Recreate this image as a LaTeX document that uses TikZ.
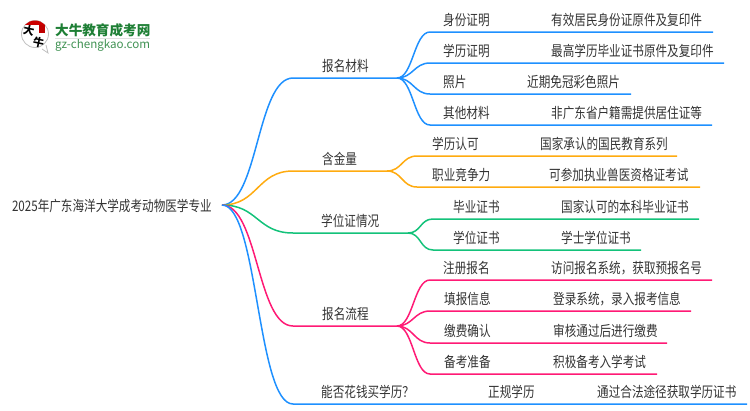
\documentclass[tikz,border=0pt]{standalone}
\usepackage{fontspec}
\setmainfont[FakeStretch=0.8]{Noto Sans CJK SC}
\newfontfamily\logofont{Noto Sans CJK SC}
\usetikzlibrary{positioning}

\definecolor{bluel}{HTML}{1E90FF}
\definecolor{orangel}{HTML}{FFAB0F}
\definecolor{greenl}{HTML}{13C27A}
\definecolor{pinkl}{HTML}{FF1A75}
\definecolor{ink}{HTML}{333333}
\definecolor{logogreen}{HTML}{1E7F35}

\tikzset{
	txt/.style={anchor=base west,inner sep=0pt,yshift=1pt,text=ink,font=\fontsize{14.5}{16}\selectfont},
	line/.style={line width=1.5pt,draw=#1},
	spline/.style={out=0,in=180,min distance=#1,max distance=#1}
}

\begin{document}
\begin{tikzpicture}[x=1pt,y=-1pt]
	\useasboundingbox (0,0) rectangle (750,410);
	
	% logo
	\draw [black!25,fill=white,line width=.8pt] (42,49) -- (48,53) -- (46,45);
	\draw [black!25,fill=white,line width=.8pt] (35,34) circle (13.5);
	\begin{scope}
		\clip (35,34) circle (13.5);
		\fill [red!80!black] (20,19) rectangle (50,25);
	\end{scope}
	\fill [red!75!black] (39,25) rectangle (45,33);
	\node (logoa) [inner sep=0pt,rotate=-12,font=\logofont\fontsize{11}{11}\selectfont\bfseries] at (29,31) {大};
	\node (logob) [inner sep=0pt,rotate=-12,font=\logofont\fontsize{11}{11}\selectfont\bfseries] at (38.5,43) {牛};
	\node (logot) [anchor=base west,inner sep=0pt,text=logogreen,font=\logofont\fontsize{13.6}{14}\selectfont\bfseries] at (55,35) {大牛教育成考网};
	\node (logou) [anchor=base west,inner sep=0pt,text=logogreen!85,font=\logofont\fontsize{11.6}{12}\selectfont] at (55,48) {gz-chengkao.com};
	\coordinate (logol) at (55,38.5);
	\coordinate (logor) at (150,38.5);
	\draw [black!12,line width=.8pt] (logol) -- (logor);
	
	% root
	\node (root) [anchor=east,inner sep=0pt,inner xsep=10pt,text height=13pt,text depth=0pt,text=ink,font=\fontsize{14.5}{16}\selectfont] at (222,205) {2025年广东海洋大学成考动物医学专业};
	
	% 报名材料
	\coordinate (a) at (293,78);
	\coordinate (ae) at (397,78);
	\node (at) [txt] at (322,72) {报名材料};
	\draw [line=bluel] (root.east) to [spline=36pt] (a) -- (ae);
	
	\coordinate (a1) at (430,32);
	\coordinate (a1e) at (713,32);
	\coordinate (a2) at (430,63);
	\coordinate (a2e) at (724,63);
	\coordinate (a3) at (430,94);
	\coordinate (a3e) at (631,94);
	\coordinate (a4) at (430,125);
	\coordinate (a4e) at (712,125);
	\draw [line=bluel] (ae) to [spline=16pt] (a1) -- (a1e);
	\draw [line=bluel] (ae) to [spline=16pt] (a2) -- (a2e);
	\draw [line=bluel] (ae) to [spline=16pt] (a3) -- (a3e);
	\draw [line=bluel] (ae) to [spline=16pt] (a4) -- (a4e);
	\node (a1t) [txt] at (443,26) {身份证明};
	\node (a1v) [txt] at (551,26) {有效居民身份证原件及复印件};
	\node (a2t) [txt] at (443,57) {学历证明};
	\node (a2v) [txt] at (551,57) {最高学历毕业证书原件及复印件};
	\node (a3t) [txt] at (443,88) {照片};
	\node (a3v) [txt] at (527,88) {近期免冠彩色照片};
	\node (a4t) [txt] at (443,119) {其他材料};
	\node (a4v) [txt] at (551,119) {非广东省户籍需提供居住证等};
	
	% 含金量
	\coordinate (b) at (293,171);
	\coordinate (be) at (387,171);
	\node (bt) [txt] at (322,165) {含金量};
	\draw [line=orangel] (root.east) to [spline=36pt] (b) -- (be);
	
	\coordinate (b1) at (417,156);
	\coordinate (b1e) at (677,156);
	\coordinate (b2) at (417,187);
	\coordinate (b2e) at (700,187);
	\draw [line=orangel] (be) to [spline=15pt] (b1) -- (b1e);
	\draw [line=orangel] (be) to [spline=15pt] (b2) -- (b2e);
	\node (b1t) [txt] at (432,150) {学历认可};
	\node (b1v) [txt] at (540,150) {国家承认的国民教育系列};
	\node (b2t) [txt] at (432,181) {职业竞争力};
	\node (b2v) [txt] at (549,181) {可参加执业兽医资格证考试};
	
	% 学位证情况
	\coordinate (c) at (293,233);
	\coordinate (ce) at (408,233);
	\node (ct) [txt] at (321,227) {学位证情况};
	\draw [line=greenl] (root.east) to [spline=36pt] (c) -- (ce);
	
	\coordinate (c1) at (433,219);
	\coordinate (c1e) at (699,219);
	\coordinate (c2) at (433,250);
	\coordinate (c2e) at (641,250);
	\draw [line=greenl] (ce) to [spline=13pt] (c1) -- (c1e);
	\draw [line=greenl] (ce) to [spline=13pt] (c2) -- (c2e);
	\node (c1t) [txt] at (453,213) {毕业证书};
	\node (c1v) [txt] at (561,213) {国家认可的本科毕业证书};
	\node (c2t) [txt] at (453,244) {学位证书};
	\node (c2v) [txt] at (561,244) {学士学位证书};
	
	% 报名流程
	\coordinate (d) at (293,326);
	\coordinate (de) at (397,326);
	\node (dt) [txt] at (322,320) {报名流程};
	\draw [line=pinkl] (root.east) to [spline=36pt] (d) -- (de);
	
	\coordinate (d1) at (430,280);
	\coordinate (d1e) at (712,280);
	\coordinate (d2) at (430,311);
	\coordinate (d2e) at (691,311);
	\coordinate (d3) at (430,343);
	\coordinate (d3e) at (667,343);
	\coordinate (d4) at (430,374);
	\coordinate (d4e) at (657,374);
	\draw [line=pinkl] (de) to [spline=16pt] (d1) -- (d1e);
	\draw [line=pinkl] (de) to [spline=16pt] (d2) -- (d2e);
	\draw [line=pinkl] (de) to [spline=16pt] (d3) -- (d3e);
	\draw [line=pinkl] (de) to [spline=16pt] (d4) -- (d4e);
	\node (d1t) [txt] at (443,274) {注册报名};
	\node (d1v) [txt] at (551,274) {访问报名系统，获取预报名号};
	\node (d2t) [txt] at (444,305) {填报信息};
	\node (d2v) [txt] at (553,305) {登录系统，录入报考信息};
	\node (d3t) [txt] at (444,337) {缴费确认};
	\node (d3v) [txt] at (553,337) {审核通过后进行缴费};
	\node (d4t) [txt] at (444,368) {备考准备};
	\node (d4v) [txt] at (553,368) {积极备考入学考试};
	
	% 能否花钱买学历
	\coordinate (e) at (293,404);
	\coordinate (ee) at (747,404);
	\draw [line=bluel] (root.east) to [spline=36pt] (e) -- (ee);
	\node (et) [txt] at (321,398) {能否花钱买学历？};
	\node (e1t) [txt] at (488,398) {正规学历};
	\node (e1v) [txt] at (597,398) {通过合法途径获取学历证书};
\end{tikzpicture}
\end{document}
